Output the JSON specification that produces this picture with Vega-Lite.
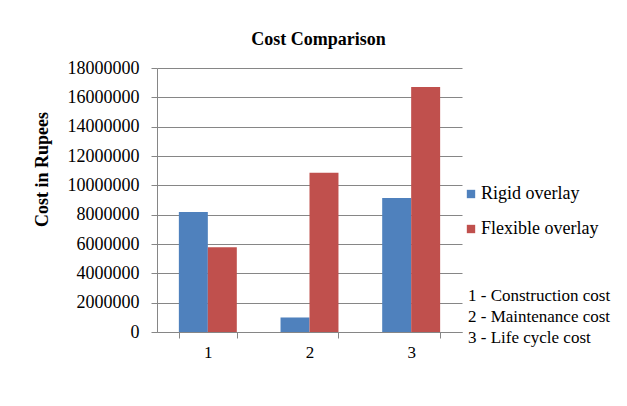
{
  "$schema": "https://vega.github.io/schema/vega-lite/v6.json",
  "autosize": "none",
  "width": 305,
  "height": 264,
  "padding": {"left": 157, "top": 68, "right": 165, "bottom": 74},
  "background": "white",
  "config": {
    "font": "Liberation Serif",
    "view": {"stroke": null},
    "axis": {"labelFont": "Liberation Serif", "titleFont": "Liberation Serif"},
    "legend": {"labelFont": "Liberation Serif", "titleFont": "Liberation Serif"}
  },
  "title": {
    "text": "Cost Comparison",
    "font": "Liberation Serif",
    "fontSize": 18,
    "fontWeight": "bold",
    "color": "#000000",
    "anchor": "middle",
    "dx": 9,
    "offset": 10
  },
  "data": {
    "values": [
      {"cat": "1", "series": "Rigid overlay", "cost": 8180000, "note": "1 - Construction cost"},
      {"cat": "1", "series": "Flexible overlay", "cost": 5780000, "note": "1 - Construction cost"},
      {"cat": "2", "series": "Rigid overlay", "cost": 990000, "note": "2 - Maintenance cost"},
      {"cat": "2", "series": "Flexible overlay", "cost": 10850000, "note": "2 - Maintenance cost"},
      {"cat": "3", "series": "Rigid overlay", "cost": 9140000, "note": "3 - Life cycle cost"},
      {"cat": "3", "series": "Flexible overlay", "cost": 16700000, "note": "3 - Life cycle cost"}
    ]
  },
  "encoding": {
    "x": {
      "field": "cat",
      "type": "nominal",
      "scale": {"paddingInner": 0.43, "paddingOuter": 0.215},
      "axis": {
        "title": null,
        "labelAngle": 0,
        "labelFont": "Liberation Serif",
        "labelFontSize": 17,
        "labelColor": "#000000",
        "labelPadding": 6,
        "domainColor": "#868686",
        "tickColor": "#868686",
        "tickSize": 6,
        "tickBand": "extent",
        "grid": false
      }
    },
    "y": {
      "field": "cost",
      "type": "quantitative",
      "scale": {"domain": [0, 18000000], "nice": false},
      "axis": {
        "title": "Cost in Rupees",
        "titleFont": "Liberation Serif",
        "titleFontSize": 18,
        "titleFontWeight": "bold",
        "titleColor": "#000000",
        "titleX": -115,
        "titleY": 101,
        "titleAlign": "center",
        "titleBaseline": "middle",
        "titleAngle": -90,
        "values": [0, 2000000, 4000000, 6000000, 8000000, 10000000, 12000000, 14000000, 16000000, 18000000],
        "format": "d",
        "labelFont": "Liberation Serif",
        "labelFontSize": 18,
        "labelColor": "#000000",
        "labelPadding": 12,
        "domainColor": "#868686",
        "tickColor": "#868686",
        "tickSize": 6,
        "gridColor": "#868686",
        "gridWidth": 1
      }
    }
  },
  "layer": [
    {
      "mark": {"type": "bar"},
      "encoding": {
        "xOffset": {"field": "series", "type": "nominal", "sort": ["Rigid overlay", "Flexible overlay"], "scale": {"paddingInner": 0, "paddingOuter": 0}},
        "color": {
          "field": "series",
          "type": "nominal",
          "scale": {"domain": ["Rigid overlay", "Flexible overlay"], "range": ["#4F81BD", "#C0504D"]},
          "legend": {
            "title": null,
            "orient": "none",
            "legendX": 305,
            "legendY": 117,
            "symbolType": "square",
            "symbolSize": 70,
            "symbolStrokeWidth": 0,
            "labelFont": "Liberation Serif",
            "labelFontSize": 18,
            "labelColor": "#000000",
            "labelOffset": 1,
            "rowPadding": 17
          }
        }
      }
    },
    {
      "mark": {"type": "point", "opacity": 0},
      "encoding": {
        "shape": {
          "field": "note",
          "type": "nominal",
          "legend": {
            "title": null,
            "orient": "none",
            "legendX": 294,
            "legendY": 219,
            "symbolSize": 0,
            "symbolOpacity": 0,
            "symbolStrokeWidth": 0,
            "labelOffset": 0,
            "labelFont": "Liberation Serif",
            "labelFontSize": 17,
            "labelColor": "#000000",
            "rowPadding": 3
          }
        }
      }
    }
  ]
}
